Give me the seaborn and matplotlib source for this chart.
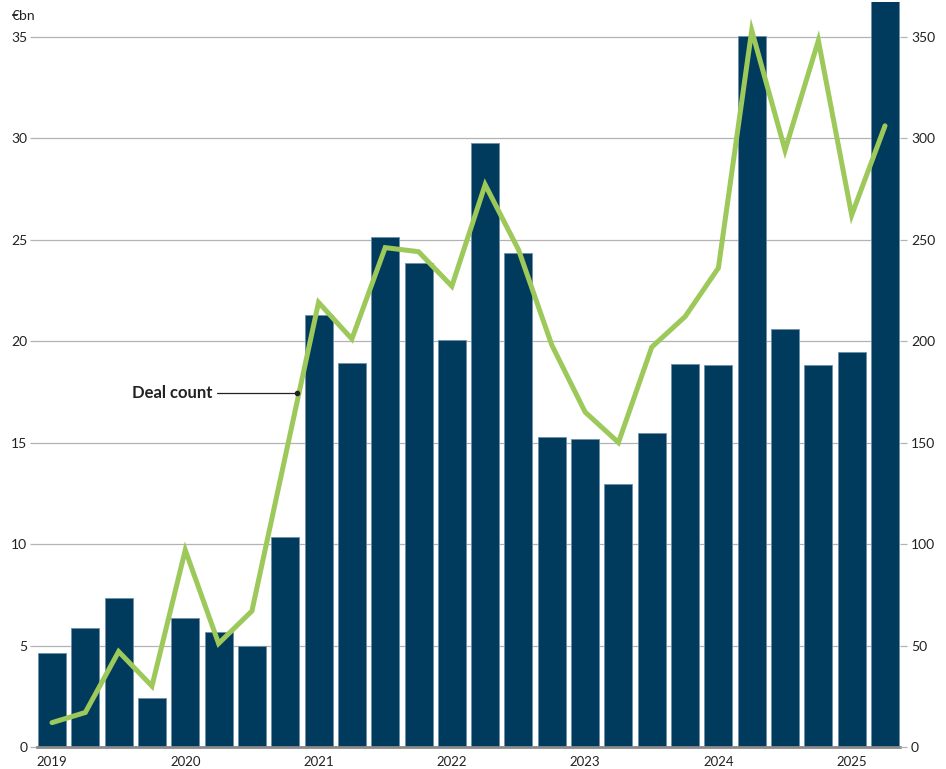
import numpy as np
import pandas as pd
import matplotlib
matplotlib.use("Agg")
import matplotlib.pyplot as plt
import seaborn as sns

quarters = [f"{y}Q{q}" for y in range(2019, 2026) for q in range(1, 5)][:26]
value_bn = [4.63, 5.87, 7.34, 2.41, 6.36, 5.67, 4.98, 10.35,
            21.3, 18.9, 25.1, 23.85, 20.06, 29.77, 24.35, 15.28,
            15.18, 12.96, 15.48, 18.88, 18.83, 35.04, 20.6, 18.83,
            19.47, 38.0]
deal_count = [12, 17, 47, 30, 97, 51, 67, 143,
              219, 201, 246, 244, 227, 277, 245, 198,
              165, 150, 197, 212, 236, 353, 294, 348,
              262, 306]
year_labels = ["2019", "2020", "2021", "2022", "2023", "2024", "2025"]
left_ticks = [0, 5, 10, 15, 20, 25, 30, 35]
right_ticks = [0, 50, 100, 150, 200, 250, 300, 350]

sns.set_theme(style="white")
plt.rcParams['font.family'] = ['Lato', 'DejaVu Sans']

W, H = 946, 769
fig = plt.figure(figsize=(W / 100, H / 100), dpi=100)
ax = fig.add_axes([37 / W, 22 / H, (900 - 37) / W, (747 - 2) / H])

df = pd.DataFrame({"quarter": quarters, "value": value_bn, "deals": deal_count})
df["pos"] = np.arange(len(df))

sns.barplot(data=df, x="quarter", y="value", color="#003B5E", saturation=1,
            width=0.84, edgecolor="#6f8faa", linewidth=0.6, ax=ax, zorder=2)
ax.set_xlim(-0.45, len(df) - 0.55)
ymax = 36.7
ax.set_ylim(0, ymax)
ax.set_yticks(left_ticks)
ax.set_yticklabels([str(t) for t in left_ticks])
ax.yaxis.grid(True, color="#b3b3b3", linewidth=0.9, zorder=0)
ax.set_axisbelow(True)
ax.set_xticks([i * 4 for i in range(len(year_labels))])
ax.set_xticklabels(year_labels)
ax.set_xlabel("")
ax.set_ylabel("")
for s in ["top", "right", "left"]:
    ax.spines[s].set_visible(False)
ax.spines["bottom"].set_color("#8a8a8a")
ax.spines["bottom"].set_linewidth(2)
ax.spines["bottom"].set_zorder(5)
ax.tick_params(axis="y", which="both", left=True, length=5, width=0.9,
               color="#b3b3b3", labelsize=10, labelcolor="#222222", pad=2)
ax.tick_params(axis="x", bottom=False, labelsize=9.5, labelcolor="#222222", pad=0.5)

ax2 = ax.twinx()
sns.lineplot(data=df, x="pos", y="deals", color="#9DC85A", linewidth=3.6,
             ax=ax2, zorder=4, solid_joinstyle="miter")
ax2.set_ylim(0, ymax * 10)
ax2.set_yticks(right_ticks)
ax2.set_yticklabels([str(t) for t in right_ticks])
ax2.set_xlim(-0.45, len(df) - 0.55)
ax2.set_ylabel("")
ax2.set_xlabel("")
for s in ["top", "left", "bottom", "right"]:
    ax2.spines[s].set_visible(False)
ax2.tick_params(axis="y", right=True, length=5, width=0.9, color="#b3b3b3",
                labelsize=10, labelcolor="#222222", pad=3)

# annotation
ax2.plot([4.95, 7.36], [174.5, 174.5], color="#222222", linewidth=0.9, zorder=5)
ax2.plot([7.36], [174.5], "o", color="#222222", markersize=3, zorder=6)
ax2.text(4.8, 174.5, "Deal count", ha="right", va="center", fontsize=12,
         fontweight="bold", color="#222222")

fig.text(12 / W, 1 - 16 / H, "€bn", ha="left", va="center", fontsize=10,
         color="#222222")

fig.savefig("out.png", dpi=100)
